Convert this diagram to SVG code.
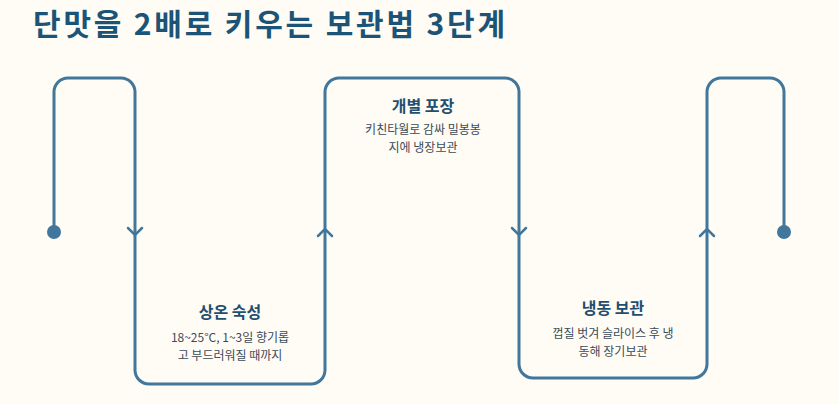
<svg xmlns="http://www.w3.org/2000/svg" width="839" height="404" viewBox="0 0 839 404">
<style>
.bg{fill:#fffcf5}
.line{fill:none;stroke:#41779c;stroke-width:3;stroke-linecap:round;stroke-linejoin:round}
.chev{fill:none;stroke:#41779c;stroke-width:2.5;stroke-linecap:round;stroke-linejoin:miter}
.dot{fill:#41779c}
.title{font-family:"Noto Sans CJK KR","Noto Sans",sans-serif;font-weight:700;font-size:30px;fill:#1c5478}
.h{font-family:"Noto Sans CJK KR","Noto Sans",sans-serif;font-weight:700;font-size:16px;fill:#1f4f70;text-anchor:middle}
.s{font-family:"Noto Sans CJK KR","Noto Sans",sans-serif;font-size:12px;fill:#3b4a58;text-anchor:middle}
</style>
<rect class="bg" x="0" y="0" width="839" height="404"/>
<text class="title" x="33" y="35" textLength="472" lengthAdjust="spacing">단맛을 2배로 키우는 보관법 3단계</text>
<g id="connectors">
<path class="line" d="M54,232 V92 A14,14 0 0 1 68,78 H121 A14,14 0 0 1 135,92 V370 A14,14 0 0 0 149,384 H311 A14,14 0 0 0 325,370 V92 A14,14 0 0 1 339,78 H505 A14,14 0 0 1 519,92 V364 A14,14 0 0 0 533,378 H693 A14,14 0 0 0 707,364 V92 A14,14 0 0 1 721,78 H770 A14,14 0 0 1 784,92 V232"/>
<polyline class="chev" points="128,228 135,235 142,228"/>
<polyline class="chev" points="318,236 325,229 332,236"/>
<polyline class="chev" points="512,228 519,235 526,228"/>
<polyline class="chev" points="700,236 707,229 714,236"/>
<circle class="dot" cx="54" cy="232" r="7"/>
<circle class="dot" cx="784" cy="232" r="7"/>
</g>
<g id="step1">
<text class="h" x="230" y="318">상온 숙성</text>
<text class="s" x="230" y="342">18~25°C, 1~3일 향기롭</text>
<text class="s" x="230" y="359.5">고 부드러워질 때까지</text>
</g>
<g id="step2">
<text class="h" x="423" y="112">개별 포장</text>
<text class="s" x="423" y="134">키친타월로 감싸 밀봉봉</text>
<text class="s" x="423" y="151.5">지에 냉장보관</text>
</g>
<g id="step3">
<text class="h" x="613" y="314">냉동 보관</text>
<text class="s" x="613" y="338">껍질 벗겨 슬라이스 후 냉</text>
<text class="s" x="613" y="355.5">동해 장기보관</text>
</g>
</svg>
